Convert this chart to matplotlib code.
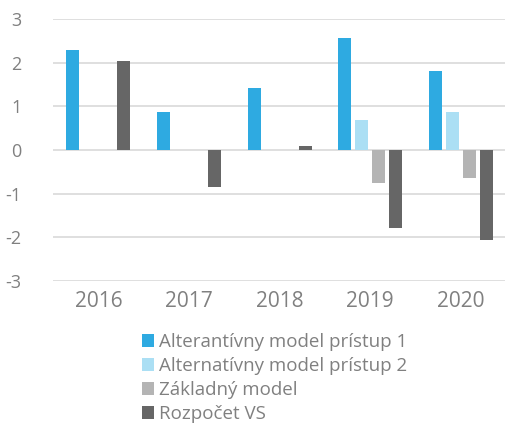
import numpy as np
import matplotlib.pyplot as plt

plt.rcParams['font.family'] = ['Open Sans', 'DejaVu Sans']
plt.rcParams['axes.unicode_minus'] = False

years = ['2016', '2017', '2018', '2019', '2020']
series_names = ['Alterantívny model prístup 1', 'Alternatívny model prístup 2',
                'Základný model', 'Rozpočet VS']
alt1 = [2.30, 0.87, 1.43, 2.56, 1.80]
alt2 = [0.0, 0.0, 0.0, 0.69, 0.88]
zakladny = [0.0, 0.0, 0.0, -0.75, -0.65]
rozpocet = [2.04, -0.85, 0.10, -1.78, -2.07]
colors = ['#2eaae1', '#abdff4', '#b4b4b4', '#666666']

fig = plt.figure(figsize=(5.06, 4.23), dpi=100)
ax = fig.add_axes([0.105, 0.336, 0.895, 0.619])

x = np.arange(len(years))
step = 0.188
width = 0.144
for i, (vals, name, c) in enumerate(zip([alt1, alt2, zakladny, rozpocet], series_names, colors)):
    ax.bar(x + (i - 1.5) * step, vals, width, color=c, label=name, zorder=3)

ax.set_xlim(-0.5, len(years) - 0.5)
ax.set_ylim(-3, 3)
ax.set_yticks(range(-3, 4))
ax.set_xticks(x)
ax.set_xticklabels(years)
ax.grid(axis='y', color='#d9d9d9', linewidth=1.2, zorder=0)
for s in ax.spines.values():
    s.set_visible(False)
ax.tick_params(length=0, colors='#808080')
ax.tick_params(axis='y', labelsize=13, pad=23)
ax.tick_params(axis='x', labelsize=15, pad=7)

fig.legend(loc='upper left', bbox_to_anchor=(0.28, 0.212), frameon=False,
           fontsize=13.5, labelcolor='#808080', handlelength=0.68, handleheight=0.68,
           handletextpad=0.25, labelspacing=0.32, borderaxespad=0, borderpad=0)

plt.savefig('out.png', dpi=100)
